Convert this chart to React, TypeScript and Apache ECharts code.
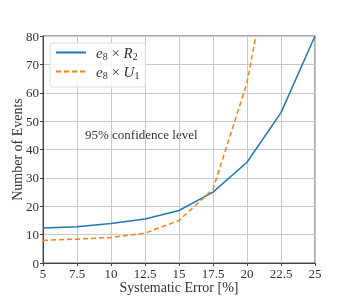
import React, { useEffect, useRef } from "react";
import * as echarts from "echarts";

const xValues = [5, 7.5, 10, 12.5, 15, 17.5, 20, 22.5, 25];
const seriesR2 = [12.3, 12.8, 13.9, 15.5, 18.5, 25, 35.5, 53, 80];
const seriesU1 = [8, 8.4, 9, 10.5, 15, 26, 63.5, 127, 200];
const seriesNames = ["R2", "U1"];
const annotation = "95% confidence level";
const xTitle = "Systematic Error [%]";
const yTitle = "Number of Events";

const FONT = "'Liberation Serif', 'DejaVu Serif', serif";

export default function App() {
  const ref = useRef<HTMLDivElement>(null);
  useEffect(() => {
    if (!ref.current) return;
    const chart = echarts.init(ref.current, undefined, { renderer: "svg" });
    const rich = {
      i: { fontFamily: FONT, fontStyle: "italic", fontSize: 15, color: "#333", lineHeight: 16 },
      n: { fontFamily: FONT, fontSize: 15, color: "#333", lineHeight: 16 },
      s: { fontFamily: FONT, fontSize: 10, color: "#333", padding: [7, 0, 0, 0], lineHeight: 16 },
    };
    chart.setOption({
      animation: false,
      textStyle: { fontFamily: FONT },
      grid: {
        left: 43,
        right: 35,
        top: 36,
        bottom: 37,
        outerBoundsMode: "none",
        containLabel: false,
        show: true,
        borderColor: "#555",
        borderWidth: 1,
      },
      legend: {
        left: 50,
        top: 43,
        orient: "vertical",
        itemWidth: 30,
        itemHeight: 12,
        itemGap: 2,
        padding: [1, 6, 7, 5],
        borderColor: "#ddd",
        borderWidth: 1,
        borderRadius: 3,
        backgroundColor: "rgba(255,255,255,0.85)",
        itemStyle: { opacity: 0 },
        data: seriesNames,
        formatter: (name: string) =>
          name === "R2" ? "{i|e}{s|8}{n| × }{i|R}{s|2}" : "{i|e}{s|8}{n| × }{i|U}{s|1}",
        textStyle: { rich, padding: [0, 0, 0, 5] },
      },
      xAxis: {
        type: "value",
        min: 5,
        max: 25,
        interval: 2.5,
        name: xTitle,
        nameLocation: "middle",
        nameGap: 17,
        nameMoveOverlap: false,
        nameTextStyle: { fontFamily: FONT, fontSize: 14, color: "#333" },
        axisLine: { show: true, lineStyle: { color: "#444", width: 1 } },
        axisTick: { show: true, length: 3, lineStyle: { color: "#444" } },
        axisLabel: { fontFamily: FONT, fontSize: 13, color: "#333", margin: 4 },
        splitLine: { show: true, lineStyle: { color: "#c8c8c8", width: 1 } },
      },
      yAxis: {
        type: "value",
        min: 0,
        max: 80,
        interval: 10,
        name: yTitle,
        nameLocation: "middle",
        nameGap: 19,
        nameMoveOverlap: false,
        nameTextStyle: { fontFamily: FONT, fontSize: 14, color: "#333" },
        axisLine: { show: true, lineStyle: { color: "#444", width: 1 } },
        axisTick: { show: true, length: 3, lineStyle: { color: "#444" } },
        axisLabel: { fontFamily: FONT, fontSize: 13, color: "#333", margin: 4 },
        splitLine: { show: true, lineStyle: { color: "#c8c8c8", width: 1 } },
      },
      graphic: [
        {
          type: "text",
          left: 85,
          top: 128,
          style: { text: annotation, font: `13px ${FONT}`, fill: "#333" },
        },
      ],
      series: [
        {
          name: "R2",
          type: "line",
          data: xValues.map((x, i) => [x, seriesR2[i]]),
          symbol: "none",
          clip: true,
          lineStyle: { color: "#1f77b4", width: 1.5 },
          itemStyle: { color: "#1f77b4" },
        },
        {
          name: "U1",
          type: "line",
          data: xValues.map((x, i) => [x, seriesU1[i]]),
          symbol: "none",
          clip: true,
          lineStyle: { color: "#ff7f0e", width: 1.5, type: [5, 3] },
          itemStyle: { color: "#ff7f0e" },
        },
      ],
    });
    return () => chart.dispose();
  }, []);
  return <div ref={ref} style={{ position: "fixed", left: 0, top: 0, width: 350, height: 300 }} />;
}
